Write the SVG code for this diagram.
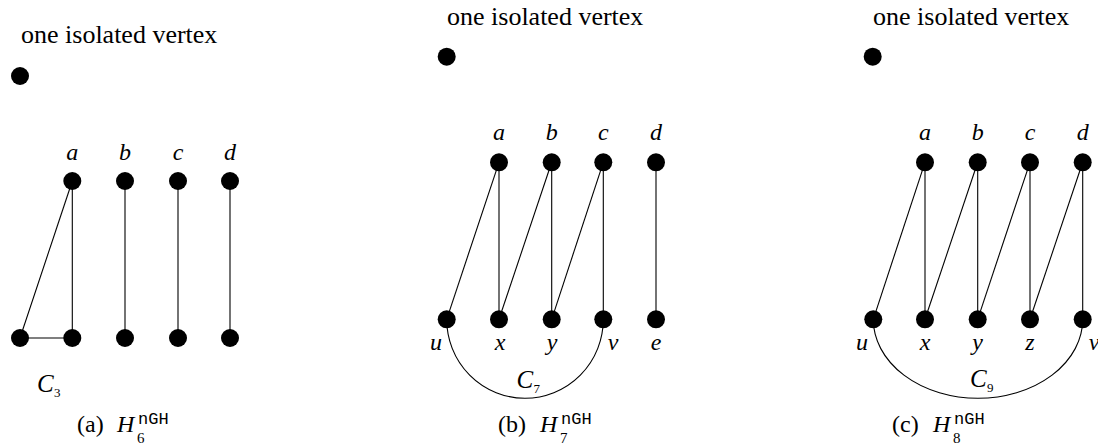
<svg xmlns="http://www.w3.org/2000/svg" width="1098" height="445" viewBox="0 0 1098 445">
<style>
.v{fill:#000}
.e{stroke:#000;stroke-width:1.1;fill:none}
</style>
<rect width="1098" height="445" fill="#fff"/>
<g id="connectors">
  <line class="e" x1="20" y1="338" x2="72.3" y2="181"/>
  <line class="e" x1="20" y1="338" x2="72.3" y2="338"/>
  <line class="e" x1="72.3" y1="181" x2="72.3" y2="338"/>
  <line class="e" x1="125" y1="181" x2="125" y2="338"/>
  <line class="e" x1="178" y1="181" x2="178" y2="338"/>
  <line class="e" x1="230" y1="181" x2="230" y2="338"/>
  <line class="e" x1="499" y1="162.3" x2="446.7" y2="319.3"/>
  <line class="e" x1="499" y1="162.3" x2="499" y2="319.3"/>
  <line class="e" x1="551.7" y1="162.3" x2="499" y2="319.3"/>
  <line class="e" x1="551.7" y1="162.3" x2="551.7" y2="319.3"/>
  <line class="e" x1="603.3" y1="162.3" x2="551.7" y2="319.3"/>
  <line class="e" x1="603.3" y1="162.3" x2="603.3" y2="319.3"/>
  <line class="e" x1="656" y1="162.3" x2="656" y2="319.3"/>
  <path class="e" d="M446.7,319.3 A78.3,79 0 0 0 603.3,319.3"/>
  <line class="e" x1="925" y1="162.3" x2="873.3" y2="319.3"/>
  <line class="e" x1="925" y1="162.3" x2="925" y2="319.3"/>
  <line class="e" x1="977.7" y1="162.3" x2="925" y2="319.3"/>
  <line class="e" x1="977.7" y1="162.3" x2="977.7" y2="319.3"/>
  <line class="e" x1="1030" y1="162.3" x2="977.7" y2="319.3"/>
  <line class="e" x1="1030" y1="162.3" x2="1030" y2="319.3"/>
  <line class="e" x1="1082.7" y1="162.3" x2="1030" y2="319.3"/>
  <line class="e" x1="1082.7" y1="162.3" x2="1082.7" y2="319.3"/>
  <path class="e" d="M873.3,319.3 A104.7,79 0 0 0 1082.7,319.3"/>
</g>

<g font-family="Liberation Serif, serif" fill="#000">
<text x="21" y="43" font-size="26">one isolated vertex</text>
<text x="447" y="25" font-size="26">one isolated vertex</text>
<text x="873" y="25" font-size="26">one isolated vertex</text>

<g font-style="italic" font-size="24" text-anchor="middle">
<g id="a-iso"><circle class="v" cx="20" cy="76" r="9"/></g>
<g id="a-a"><circle class="v" cx="72.3" cy="181" r="9"/><text x="72.3" y="160">a</text></g>
<g id="a-b"><circle class="v" cx="125" cy="181" r="9"/><text x="125" y="160">b</text></g>
<g id="a-c"><circle class="v" cx="178" cy="181" r="9"/><text x="178" y="160">c</text></g>
<g id="a-d"><circle class="v" cx="230" cy="181" r="9"/><text x="230" y="160">d</text></g>
<g id="a-w"><circle class="v" cx="20" cy="338" r="9"/></g>
<g id="a-a2"><circle class="v" cx="72.3" cy="338" r="9"/></g>
<g id="a-b2"><circle class="v" cx="125" cy="338" r="9"/></g>
<g id="a-c2"><circle class="v" cx="178" cy="338" r="9"/></g>
<g id="a-d2"><circle class="v" cx="230" cy="338" r="9"/></g>

<g id="b-iso"><circle class="v" cx="446.7" cy="56.7" r="9"/></g>
<g id="b-a"><circle class="v" cx="499" cy="162.3" r="9"/><text x="499" y="140">a</text></g>
<g id="b-b"><circle class="v" cx="551.7" cy="162.3" r="9"/><text x="551.7" y="140">b</text></g>
<g id="b-c"><circle class="v" cx="603.3" cy="162.3" r="9"/><text x="603.3" y="140">c</text></g>
<g id="b-d"><circle class="v" cx="656" cy="162.3" r="9"/><text x="656" y="140">d</text></g>
<g id="b-u"><circle class="v" cx="446.7" cy="319.3" r="9"/><text x="436" y="350">u</text></g>
<g id="b-x"><circle class="v" cx="499" cy="319.3" r="9"/><text x="500" y="350">x</text></g>
<g id="b-y"><circle class="v" cx="551.7" cy="319.3" r="9"/><text x="552" y="350">y</text></g>
<g id="b-v"><circle class="v" cx="603.3" cy="319.3" r="9"/><text x="613" y="350">v</text></g>
<g id="b-e"><circle class="v" cx="656" cy="319.3" r="9"/><text x="656" y="350">e</text></g>

<g id="c-iso"><circle class="v" cx="872.7" cy="56.7" r="9"/></g>
<g id="c-a"><circle class="v" cx="925" cy="162.3" r="9"/><text x="925" y="140">a</text></g>
<g id="c-b"><circle class="v" cx="977.7" cy="162.3" r="9"/><text x="977.7" y="140">b</text></g>
<g id="c-c"><circle class="v" cx="1030" cy="162.3" r="9"/><text x="1030" y="140">c</text></g>
<g id="c-d"><circle class="v" cx="1082.7" cy="162.3" r="9"/><text x="1082.7" y="140">d</text></g>
<g id="c-u"><circle class="v" cx="873.3" cy="319.3" r="9"/><text x="862" y="350">u</text></g>
<g id="c-x"><circle class="v" cx="925" cy="319.3" r="9"/><text x="925" y="350">x</text></g>
<g id="c-y"><circle class="v" cx="977.7" cy="319.3" r="9"/><text x="977.7" y="350">y</text></g>
<g id="c-z"><circle class="v" cx="1030" cy="319.3" r="9"/><text x="1030" y="350">z</text></g>
<g id="c-v"><circle class="v" cx="1082.7" cy="319.3" r="9"/><text x="1094" y="350">v</text></g>
</g>

<g id="a-C3"><text x="37" y="392" font-size="25" font-style="italic">C</text><text x="54" y="397" font-size="13">3</text></g>
<g id="b-C7"><text x="516.5" y="388" font-size="25" font-style="italic">C</text><text x="533.5" y="393" font-size="13">7</text></g>
<g id="c-C9"><text x="970" y="387" font-size="25" font-style="italic">C</text><text x="987" y="392" font-size="13">9</text></g>

<g id="a-caption"><text x="77" y="432" font-size="24">(a)</text><text x="117" y="432" font-size="24" font-style="italic">H</text><text x="137" y="443" font-size="15">6</text><text x="138" y="424" font-size="17" font-family="Liberation Mono, monospace">nGH</text></g>
<g id="b-caption"><text x="498" y="432" font-size="24">(b)</text><text x="540" y="432" font-size="24" font-style="italic">H</text><text x="560" y="443" font-size="15">7</text><text x="561" y="424" font-size="17" font-family="Liberation Mono, monospace">nGH</text></g>
<g id="c-caption"><text x="892" y="432" font-size="24">(c)</text><text x="933" y="432" font-size="24" font-style="italic">H</text><text x="953" y="443" font-size="15">8</text><text x="954" y="424" font-size="17" font-family="Liberation Mono, monospace">nGH</text></g>
</g>
</svg>
